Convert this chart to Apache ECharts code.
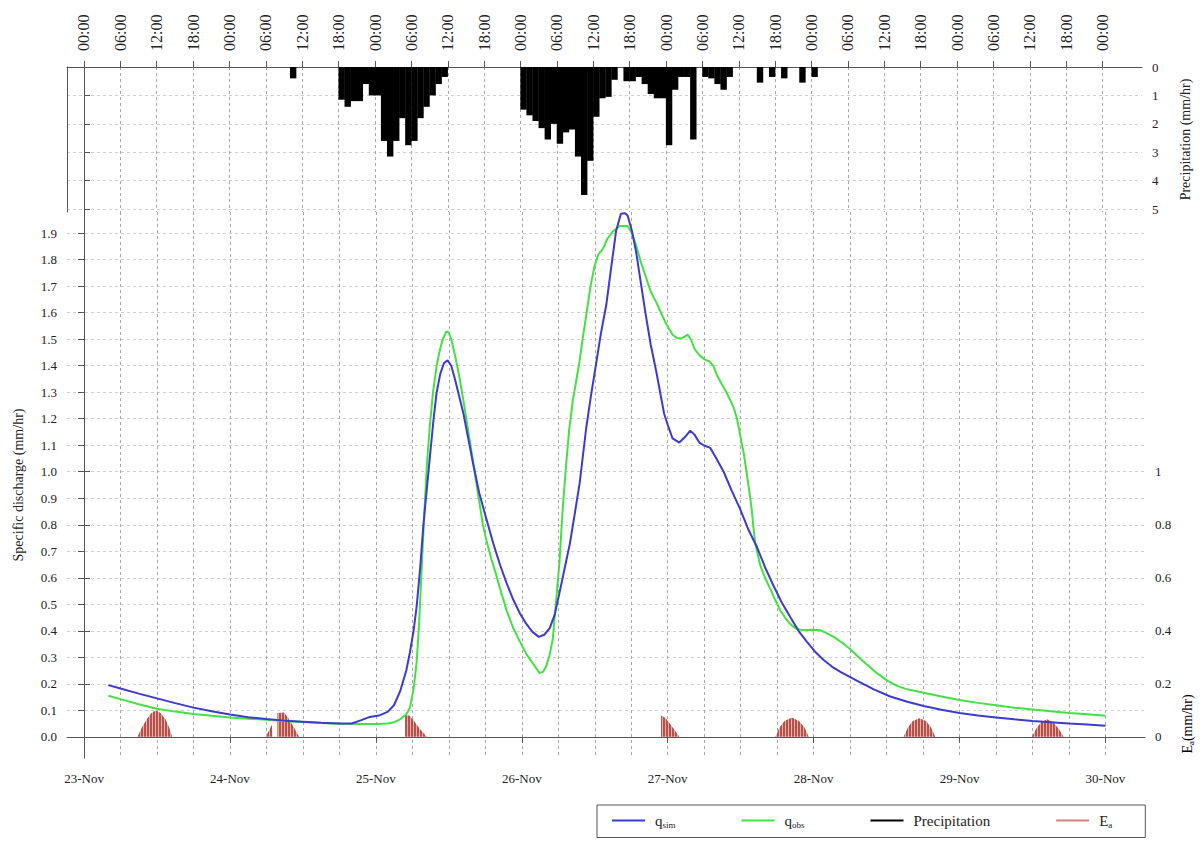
<!DOCTYPE html>
<html>
<head>
<meta charset="utf-8">
<script src="https://cdn.jsdelivr.net/npm/echarts@6/dist/echarts.min.js"></script>
<style>
  html, body { margin: 0; padding: 0; background: #fff; }
  #chart { width: 1200px; height: 841px; }
</style>
</head>
<body>
<div id="chart"></div>
<script>
// time is in hours counted from 23-Nov 00:00
const dayTicks = [0, 24, 48, 72, 96, 120, 144, 168];
const dayLabels = ['23-Nov', '24-Nov', '25-Nov', '26-Nov', '27-Nov', '28-Nov', '29-Nov', '30-Nov'];
const hourTicks = [0, 6, 12, 18, 24, 30, 36, 42, 48, 54, 60, 66, 72, 78, 84, 90, 96, 102, 108, 114, 120, 126, 132, 138, 144, 150, 156, 162, 168];
const hourLabels = ['00:00', '06:00', '12:00', '18:00'];
const qTicks = [0, 0.1, 0.2, 0.3, 0.4, 0.5, 0.6, 0.7, 0.8, 0.9, 1.0, 1.1, 1.2, 1.3, 1.4, 1.5, 1.6, 1.7, 1.8, 1.9];
const eaTicks = [0, 0.2, 0.4, 0.6, 0.8, 1];
const rainTicks = [0, 1, 2, 3, 4, 5];

// simulated specific discharge [hour, mm/hr]
const qSim = [
  [4, 0.195], [6, 0.182], [9, 0.163], [12, 0.145], [15, 0.127], [18, 0.110], [21, 0.096], [24, 0.084],
  [27, 0.074], [30, 0.067], [33, 0.061], [36, 0.057], [39, 0.053], [42, 0.050], [44, 0.050], [45.5, 0.062],
  [47, 0.075], [48.5, 0.080], [50, 0.095], [51, 0.12], [52, 0.172], [53, 0.25], [53.6, 0.318], [54.2, 0.40],
  [54.7, 0.49], [55.3, 0.64], [55.8, 0.795], [56.4, 0.94], [56.9, 1.06], [57.5, 1.20], [58, 1.30], [58.6, 1.37],
  [59.2, 1.41], [59.8, 1.42], [60.4, 1.40], [61, 1.35], [62.4, 1.22], [64, 1.03], [65, 0.92], [66.2, 0.82],
  [67.3, 0.73], [68.4, 0.65], [69.5, 0.58], [70.6, 0.517], [71.7, 0.465], [72.8, 0.424], [73.8, 0.395], [74.8, 0.377],
  [75.7, 0.385], [76.6, 0.41], [77.4, 0.46], [78.2, 0.543], [79, 0.63], [79.9, 0.728], [80.7, 0.84], [81.5, 0.954],
  [82.6, 1.166], [83.4, 1.29], [84.2, 1.404], [85, 1.52], [85.9, 1.63], [86.7, 1.77], [87.5, 1.907], [88.3, 1.973],
  [89, 1.975], [89.4, 1.967], [90.1, 1.91], [90.8, 1.83], [91.6, 1.71], [92.4, 1.59], [93.2, 1.48], [94.1, 1.38],
  [95.4, 1.22], [96.1, 1.17], [96.8, 1.126], [97.9, 1.11], [98.8, 1.13], [99.7, 1.155], [100.4, 1.14], [101.2, 1.11],
  [101.9, 1.10], [103, 1.09], [104, 1.05], [105.2, 1.0], [106.5, 0.93], [107.9, 0.86], [109.3, 0.78], [110.7, 0.715],
  [112, 0.64], [113.4, 0.57], [114.8, 0.505], [116.2, 0.45], [117.5, 0.40], [118.9, 0.358], [120.2, 0.322], [121.6, 0.291],
  [123, 0.265], [124.4, 0.245], [127.1, 0.212], [129.9, 0.179], [132.6, 0.152], [135.4, 0.132], [138.1, 0.116], [141, 0.102],
  [144, 0.09], [147, 0.08], [150, 0.073], [153, 0.066], [156, 0.06], [159, 0.055], [162, 0.05], [165, 0.046], [168, 0.042]
];

// observed specific discharge [hour, mm/hr]
const qObs = [
  [4, 0.155], [6, 0.142], [9, 0.123], [12, 0.106], [15, 0.095], [18, 0.086], [21, 0.079], [24, 0.073],
  [27, 0.068], [30, 0.064], [33, 0.060], [36, 0.056], [39, 0.052], [42, 0.049], [45, 0.048], [48, 0.048],
  [50, 0.050], [51, 0.055], [52, 0.066], [53, 0.085], [53.6, 0.11], [54.2, 0.18], [54.7, 0.28], [55.1, 0.42],
  [55.5, 0.62], [56, 0.86], [56.4, 1.03], [56.9, 1.18], [57.4, 1.30], [58, 1.40], [58.5, 1.457], [59, 1.50],
  [59.6, 1.53], [60, 1.525], [60.4, 1.50], [61.1, 1.43], [61.8, 1.35], [62.6, 1.24], [63.5, 1.11], [64.3, 0.99],
  [65.1, 0.874], [65.6, 0.80], [66.2, 0.74], [67, 0.67], [67.8, 0.61], [68.6, 0.545], [69.5, 0.477], [70.6, 0.41],
  [71.7, 0.358], [72.8, 0.31], [73.8, 0.278], [74.9, 0.241], [75.5, 0.245], [76, 0.265], [76.6, 0.31], [77.1, 0.37],
  [77.6, 0.50], [78.2, 0.66], [78.7, 0.85], [79.3, 1.03], [79.8, 1.16], [80.4, 1.27], [81, 1.35], [81.5, 1.417],
  [82, 1.50], [82.6, 1.59], [83.3, 1.70], [84, 1.78], [84.6, 1.82], [85.3, 1.84], [86.1, 1.88], [87, 1.907],
  [88.1, 1.927], [89.4, 1.927], [90.1, 1.90], [90.8, 1.854], [91.6, 1.79], [92.4, 1.735], [93.2, 1.68], [94.1, 1.64],
  [94.9, 1.60], [95.7, 1.56], [96.8, 1.517], [97.5, 1.505], [98.2, 1.503], [98.8, 1.51], [99.3, 1.517], [99.8, 1.50],
  [100.4, 1.464], [101.2, 1.44], [102, 1.424], [102.8, 1.417], [103.5, 1.40], [104.1, 1.364], [104.9, 1.33], [105.7, 1.298],
  [106.8, 1.245], [107.4, 1.20], [107.9, 1.139], [108.5, 1.07], [109, 0.993], [109.4, 0.93], [109.8, 0.861], [110.1, 0.79],
  [110.4, 0.728], [111.2, 0.649], [112, 0.60], [112.9, 0.556], [113.7, 0.515], [114.5, 0.477], [115.3, 0.45], [116.2, 0.424],
  [117, 0.41], [117.8, 0.404], [119, 0.403], [120, 0.404], [121.1, 0.402], [122.2, 0.39], [123.3, 0.377], [124.7, 0.355],
  [126, 0.331], [127.4, 0.30], [128.8, 0.272], [130.4, 0.24], [132.1, 0.212], [133.7, 0.192], [135.4, 0.179], [138.1, 0.166],
  [141, 0.152], [144, 0.139], [147, 0.128], [150, 0.119], [153, 0.11], [156, 0.103], [159, 0.096], [162, 0.09],
  [165, 0.085], [168, 0.079]
];

// actual evaporation humps [hour, mm/hr]
const eaHumps = [
  [[8.8, 0], [9.5, 0.035], [10.3, 0.065], [11, 0.088], [11.8, 0.1], [12.6, 0.09], [13.4, 0.065], [14, 0.035], [14.5, 0]],
  [[29.9, 0], [30.9, 0.045], [31.0, 0]],
  [[31.8, 0], [31.8, 0.09], [32.9, 0.092], [33.6, 0.07], [34.4, 0.04], [35.4, 0]],
  [[52.8, 0], [52.8, 0.082], [53.5, 0.08], [54.3, 0.06], [55.2, 0.03], [56.4, 0]],
  [[94.9, 0], [94.9, 0.08], [95.6, 0.072], [96.5, 0.045], [97.3, 0.02], [97.9, 0]],
  [[113.7, 0], [114.4, 0.035], [115.2, 0.06], [116.4, 0.073], [117.6, 0.06], [118.5, 0.035], [119.2, 0]],
  [[134.8, 0], [135.5, 0.035], [136.3, 0.06], [137.4, 0.07], [138.5, 0.06], [139.3, 0.035], [140, 0]],
  [[155.9, 0], [156.6, 0.03], [157.4, 0.055], [158.4, 0.066], [159.4, 0.055], [160.3, 0.03], [161.1, 0]]
];

// hourly precipitation [start hour, mm/hr]
const rain = [
  [34, 0.4],
  [42, 1.15], [43, 1.4], [44, 1.2], [45, 1.2], [46, 0.6], [47, 1.0], [48, 1.0], [49, 2.6], [50, 3.15],
  [51, 2.6], [52, 1.8], [53, 2.75], [54, 2.6], [55, 1.8], [56, 1.4], [57, 1.0], [58, 0.6], [59, 0.35],
  [72, 1.5], [73, 1.7], [74, 1.9], [75, 2.15], [76, 2.55], [77, 2.0], [78, 2.7], [79, 2.3], [80, 2.2],
  [81, 3.15], [82, 4.5], [83, 3.3], [84, 1.75], [85, 1.1], [86, 1.05], [87, 0.45],
  [89, 0.5], [90, 0.5], [91, 0.35], [92, 0.6], [93, 0.95], [94, 1.1], [95, 1.1], [96, 2.75], [97, 0.8],
  [98, 0.35], [99, 0.35], [100, 2.55],
  [102, 0.35], [103, 0.4], [104, 0.6], [105, 0.8], [106, 0.35],
  [111, 0.55], [113, 0.35], [115, 0.4], [118, 0.55], [120, 0.35]
];

const serif = 'Liberation Serif';
const axisColor = '#555';
const tickText = { fontFamily: serif, fontSize: 13, color: '#222' };
const xMin = -2.8;
const xMax = 174.5;

function hatchPattern() {
  const c = document.createElement('canvas');
  c.width = 3;
  c.height = 4;
  const ctx = c.getContext('2d');
  ctx.fillStyle = '#b4534d';
  ctx.fillRect(0, 0, 3, 4);
  ctx.fillStyle = '#e6aba4';
  ctx.fillRect(2, 0, 1, 4);
  return c.toDataURL();
}

function eaData() {
  const out = [];
  eaHumps.forEach(hump => {
    out.push(...hump);
    out.push([hump[hump.length - 1][0], '-']);
  });
  return out;
}

const legendText = {
  qsim: '{m|q}{s|sim}',
  qobs: '{m|q}{s|obs}',
  Precipitation: '{m|Precipitation}',
  Ea: '{m|E}{s|a}'
};
const legendRich = {
  m: { fontFamily: serif, fontSize: 15, color: '#222', lineHeight: 18 },
  s: { fontFamily: serif, fontSize: 9, color: '#222', lineHeight: 11, verticalAlign: 'bottom' }
};
const nameRich = {
  m: { fontFamily: serif, fontSize: 14, color: '#222', lineHeight: 16 },
  s: { fontFamily: serif, fontSize: 9, color: '#222', lineHeight: 10, verticalAlign: 'bottom' }
};

const dashed = { show: true, lineStyle: { color: '#a8a8a8', type: [3, 3], width: 1 } };
const dashedLight = { show: true, lineStyle: { color: '#d0d0d0', type: [3, 3], width: 1 } };

const chart = echarts.init(document.getElementById('chart'), null, { renderer: 'svg' });
chart.setOption({
  animation: false,
  backgroundColor: '#fff',
  textStyle: { fontFamily: serif },
  grid: [
    { left: 67, right: 55, top: 67, height: 145 },
    { left: 67, right: 55, top: 212, bottom: 83 }
  ],
  xAxis: [
    {
      gridIndex: 0, type: 'value', position: 'top', min: xMin, max: xMax,
      axisLine: { lineStyle: { color: axisColor } },
      axisTick: { customValues: hourTicks, length: 6, lineStyle: { color: axisColor } },
      axisLabel: { ...tickText, fontSize: 16, customValues: hourTicks, rotate: 90, margin: 16, formatter: v => hourLabels[(v % 24) / 6] },
      splitLine: dashed
    },
    {
      gridIndex: 1, type: 'value', position: 'bottom', min: xMin, max: xMax,
      axisLine: { lineStyle: { color: axisColor } },
      axisTick: { customValues: dayTicks, length: 6, lineStyle: { color: axisColor } },
      axisLabel: { ...tickText, customValues: dayTicks, margin: 14, formatter: v => dayLabels[v / 24] },
      splitLine: { show: false }
    },
    {
      gridIndex: 1, type: 'value', position: 'top', min: xMin, max: xMax,
      axisLine: { show: false },
      axisTick: { show: false, customValues: hourTicks },
      axisLabel: { show: false, customValues: hourTicks },
      splitLine: dashed
    }
  ],
  yAxis: [
    {
      gridIndex: 0, type: 'value', position: 'right', inverse: true, min: 0, max: 5.1,
      name: 'Precipitation (mm/hr)', nameLocation: 'middle', nameRotate: 90, nameGap: 36,
      nameTextStyle: { fontFamily: serif, fontSize: 14, color: '#222' },
      axisLine: { show: true, lineStyle: { color: axisColor } },
      axisTick: { customValues: rainTicks, length: 6, lineStyle: { color: axisColor } },
      axisLabel: { ...tickText, customValues: rainTicks, margin: 10 },
      splitLine: dashedLight
    },
    {
      gridIndex: 0, type: 'value', position: 'left', min: 0, max: 5.1,
      axisLine: { show: true, lineStyle: { color: axisColor } },
      axisTick: { show: false }, axisLabel: { show: false }, splitLine: { show: false }
    },
    {
      gridIndex: 1, type: 'value', position: 'left', min: -0.08, max: 1.98,
      name: 'Specific discharge (mm/hr)', nameLocation: 'middle', nameRotate: 90, nameGap: 42,
      nameTextStyle: { fontFamily: serif, fontSize: 14, color: '#222' },
      axisLine: { show: true, lineStyle: { color: axisColor } },
      axisTick: { customValues: qTicks, length: 6, lineStyle: { color: axisColor } },
      axisLabel: { ...tickText, customValues: qTicks, margin: 10, formatter: v => v.toFixed(1) },
      splitLine: dashedLight
    },
    {
      gridIndex: 1, type: 'value', position: 'right', min: -0.08, max: 1.98,
      axisLine: { show: true, lineStyle: { color: axisColor } },
      axisTick: { customValues: eaTicks, length: 6, lineStyle: { color: axisColor } },
      axisLabel: { ...tickText, customValues: eaTicks, margin: 10 },
      splitLine: { show: false }
    }
  ],
  legend: {
    left: 597, top: 805,
    data: ['qsim', 'qobs', 'Precipitation', 'Ea'],
    icon: 'rect', itemWidth: 33, itemHeight: 2, itemGap: 66,
    padding: [8, 33, 8, 15],
    borderColor: '#555', borderWidth: 1,
    formatter: name => legendText[name],
    textStyle: { fontFamily: serif, fontSize: 15, color: '#222', padding: [0, 0, 0, 5], rich: legendRich }
  },
  graphic: [{
    type: 'text', x: 1187, y: 724, rotation: Math.PI / 2,
    style: {
      text: '{m|E}{s|a}{m|(mm/hr)}', rich: nameRich,
      align: 'center', verticalAlign: 'middle'
    }
  }],
  series: [
    {
      name: 'Precipitation', type: 'bar', xAxisIndex: 0, yAxisIndex: 0,
      barWidth: 6.4, color: '#000',
      itemStyle: { color: '#000' },
      data: rain.map(([h, v]) => [h + 0.5, v])
    },
    {
      name: 'Ea', type: 'line', xAxisIndex: 1, yAxisIndex: 3,
      color: '#d08282', symbol: 'none', connectNulls: false,
      lineStyle: { width: 0 },
      areaStyle: { color: { image: hatchPattern(), repeat: 'repeat' }, opacity: 1 },
      data: eaData(), z: 1
    },
    {
      name: 'qobs', type: 'line', xAxisIndex: 1, yAxisIndex: 2,
      color: '#44e044', symbol: 'none', lineStyle: { width: 2, color: '#44e044' },
      data: qObs, z: 3
    },
    {
      name: 'qsim', type: 'line', xAxisIndex: 1, yAxisIndex: 2,
      color: '#3b3bd0', symbol: 'none', lineStyle: { width: 2, color: '#3b3bd0' },
      data: qSim, z: 4
    }
  ]
});
</script>
</body>
</html>
